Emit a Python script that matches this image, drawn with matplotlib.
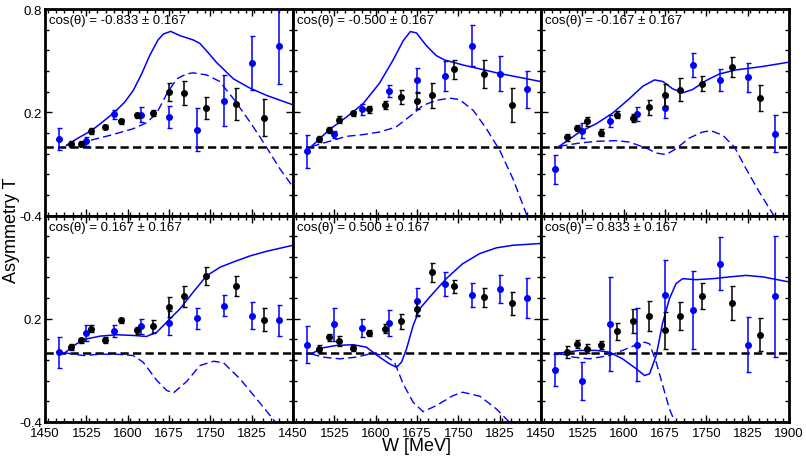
import numpy as np
import matplotlib.pyplot as plt
from matplotlib.ticker import FixedLocator, MultipleLocator

plt.rcParams['font.family'] = ['Liberation Sans', 'DejaVu Sans']

cos_labels = ['-0.833', '-0.500', '-0.167', '0.167', '0.500', '0.833']

# W positions of the two data sets
black_x = [1497, 1515, 1534, 1558, 1588, 1617, 1646, 1675, 1702, 1743, 1796, 1848]
blue_x = [1475, 1525, 1575, 1625, 1675, 1725, 1775, 1825, 1875]

black_y = [
    [0.014, 0.017, 0.089, 0.114, 0.147, 0.182, 0.197, 0.319, 0.313, 0.226, 0.247, 0.168],
    [0.043, 0.097, 0.157, 0.193, 0.216, 0.242, 0.29, 0.267, 0.298, 0.45, 0.421, 0.243],
    [0.054, 0.108, 0.147, 0.081, 0.186, 0.168, 0.23, 0.3, 0.332, 0.367, 0.464, 0.282],
    [0.037, 0.074, 0.142, 0.076, 0.19, 0.134, 0.157, 0.268, 0.33, 0.447, 0.388, 0.194],
    [0.025, 0.093, 0.07, 0.029, 0.118, 0.142, 0.186, 0.258, 0.47, 0.388, 0.326, 0.289],
    [0.006, 0.054, 0.027, 0.049, 0.126, 0.186, 0.216, 0.132, 0.216, 0.332, 0.291, 0.107],
]
black_e = [
    [0.017, 0.015, 0.017, 0.012, 0.014, 0.014, 0.018, 0.051, 0.068, 0.065, 0.093, 0.108],
    [0.018, 0.017, 0.02, 0.016, 0.018, 0.026, 0.041, 0.048, 0.073, 0.055, 0.08, 0.097],
    [0.019, 0.018, 0.025, 0.02, 0.02, 0.024, 0.044, 0.065, 0.067, 0.046, 0.059, 0.077],
    [0.017, 0.015, 0.02, 0.016, 0.017, 0.02, 0.037, 0.058, 0.061, 0.052, 0.058, 0.066],
    [0.02, 0.02, 0.028, 0.017, 0.018, 0.025, 0.043, 0.044, 0.056, 0.038, 0.055, 0.068],
    [0.033, 0.025, 0.024, 0.022, 0.048, 0.068, 0.087, 0.109, 0.08, 0.078, 0.097, 0.097],
]
blue_y = [
    [0.046, 0.031, 0.187, 0.186, 0.172, 0.097, 0.267, 0.487, 0.584],
    [-0.027, 0.072, 0.216, 0.325, 0.385, 0.41, 0.587, 0.425, 0.334],
    [-0.131, 0.093, 0.149, 0.191, 0.226, 0.475, 0.388, 0.402, 0.075],
    [0.004, 0.118, 0.128, 0.155, 0.177, 0.204, 0.276, 0.217, 0.192],
    [0.05, 0.167, 0.148, 0.175, 0.301, 0.402, 0.34, 0.373, 0.322],
    [-0.097, -0.161, 0.167, 0.05, 0.336, 0.249, 0.52, 0.05, 0.33],
]
blue_e = [
    [0.065, 0.025, 0.028, 0.045, 0.066, 0.125, 0.148, 0.158, 0.22],
    [0.097, 0.02, 0.032, 0.036, 0.072, 0.085, 0.12, 0.1, 0.108],
    [0.084, 0.042, 0.036, 0.042, 0.062, 0.071, 0.066, 0.082, 0.108],
    [0.09, 0.046, 0.034, 0.044, 0.07, 0.061, 0.06, 0.078, 0.09],
    [0.108, 0.097, 0.053, 0.073, 0.078, 0.071, 0.07, 0.08, 0.115],
    [0.094, 0.11, 0.273, 0.21, 0.204, 0.227, 0.155, 0.16, 0.35],
]

# model curves (solid and dashed)
solid_x = [
    [1489, 1510, 1535, 1555, 1576, 1595, 1610, 1625, 1640, 1655, 1665, 1678, 1695, 1719, 1731, 1745, 1761, 1792, 1822, 1852, 1900],
    [1483, 1516, 1547, 1577, 1607, 1631, 1650, 1663, 1674, 1692, 1710, 1725, 1758, 1789, 1825, 1875, 1900],
    [1483, 1520, 1550, 1580, 1610, 1635, 1656, 1671, 1689, 1707, 1725, 1750, 1774, 1804, 1852, 1900],
    [1486, 1507, 1526, 1550, 1580, 1610, 1634, 1653, 1671, 1695, 1719, 1743, 1768, 1792, 1822, 1852, 1900],
    [1483, 1504, 1529, 1559, 1583, 1607, 1625, 1638, 1647, 1656, 1668, 1680, 1698, 1728, 1758, 1789, 1819, 1849, 1898],
    [1483, 1520, 1550, 1574, 1598, 1623, 1638, 1647, 1659, 1671, 1683, 1695, 1707, 1731, 1762, 1792, 1822, 1853, 1900],
]
solid_y = [
    [0.008, 0.05, 0.095, 0.145, 0.2, 0.26, 0.326, 0.42, 0.53, 0.62, 0.655, 0.67, 0.645, 0.62, 0.6, 0.55, 0.49, 0.394, 0.34, 0.298, 0.243],
    [0.0, 0.099, 0.172, 0.249, 0.369, 0.5, 0.616, 0.669, 0.661, 0.587, 0.529, 0.504, 0.475, 0.452, 0.425, 0.394, 0.378],
    [0.002, 0.085, 0.133, 0.195, 0.278, 0.352, 0.388, 0.379, 0.336, 0.313, 0.332, 0.385, 0.423, 0.446, 0.466, 0.491],
    [0.002, 0.054, 0.083, 0.099, 0.107, 0.103, 0.097, 0.122, 0.181, 0.258, 0.355, 0.449, 0.5, 0.53, 0.565, 0.592, 0.627],
    [-0.004, 0.031, 0.045, 0.049, 0.035, -0.023, -0.062, -0.082, -0.052, 0.025, 0.161, 0.258, 0.326, 0.433, 0.52, 0.579, 0.612, 0.627, 0.637],
    [0.0, 0.016, 0.016, 0.006, -0.033, -0.091, -0.13, -0.12, -0.014, 0.18, 0.316, 0.404, 0.433, 0.427, 0.433, 0.443, 0.452, 0.443, 0.414],
]
dash_x = [
    [1489, 1525, 1568, 1610, 1634, 1652, 1671, 1689, 1707, 1719, 1743, 1767, 1792, 1822, 1846, 1876, 1900],
    [1483, 1516, 1547, 1577, 1607, 1637, 1668, 1686, 1710, 1734, 1752, 1777, 1801, 1825, 1849, 1872, 1880],
    [1483, 1520, 1550, 1586, 1610, 1641, 1659, 1677, 1695, 1719, 1743, 1758, 1780, 1801, 1822, 1846, 1870, 1880],
    [1486, 1520, 1550, 1580, 1610, 1628, 1653, 1671, 1683, 1707, 1731, 1756, 1774, 1804, 1834, 1866, 1875],
    [1483, 1504, 1535, 1565, 1595, 1619, 1634, 1650, 1668, 1686, 1710, 1740, 1758, 1789, 1819, 1840, 1850],
    [1483, 1508, 1538, 1574, 1598, 1623, 1638, 1647, 1659, 1671, 1683, 1692, 1700],
]
dash_y = [
    [0.008, 0.031, 0.066, 0.104, 0.139, 0.191, 0.307, 0.394, 0.423, 0.429, 0.417, 0.379, 0.278, 0.143, 0.027, -0.128, -0.234],
    [0.0, 0.031, 0.06, 0.07, 0.085, 0.114, 0.191, 0.24, 0.269, 0.282, 0.274, 0.211, 0.104, -0.021, -0.186, -0.379, -0.45],
    [0.002, 0.021, 0.031, 0.035, 0.027, -0.008, -0.037, -0.046, -0.012, 0.05, 0.085, 0.093, 0.066, -0.002, -0.128, -0.263, -0.388, -0.43],
    [0.002, -0.014, -0.006, -0.006, -0.014, -0.052, -0.159, -0.217, -0.231, -0.165, -0.072, -0.047, -0.056, -0.15, -0.266, -0.392, -0.43],
    [-0.004, -0.023, -0.033, -0.023, 0.0, -0.017, -0.052, -0.179, -0.285, -0.34, -0.305, -0.247, -0.227, -0.25, -0.324, -0.392, -0.43],
    [0.0, -0.023, -0.033, -0.014, 0.016, 0.049, 0.064, 0.054, -0.052, -0.188, -0.324, -0.392, -0.45],
]

x_major = [1450, 1525, 1600, 1675, 1750, 1825, 1900]
y_major = [-0.4, 0.2, 0.8]

fig, axes = plt.subplots(2, 3, figsize=(8.06, 4.6), dpi=100)
fig.subplots_adjust(left=45/806, right=789/806, top=1-10/460, bottom=1-423/460,
                    wspace=0, hspace=0)

blue = '#0000ff'
for i, ax in enumerate(axes.flat):
    row, col = divmod(i, 3)
    ax.axhline(0, color='black', lw=1.8, ls=(0, (3.3, 1.7)), zorder=1)
    ax.plot(solid_x[i], solid_y[i], color=blue, lw=1.1, zorder=2)
    ax.plot(dash_x[i], dash_y[i], color=blue, lw=1.0, ls=(0, (6, 3)), zorder=2)
    ax.errorbar(blue_x, blue_y[i], yerr=blue_e[i], fmt='o', color=blue, ms=4,
                elinewidth=1.1, capsize=1.8, capthick=1.0, zorder=3)
    ax.errorbar(black_x, black_y[i], yerr=black_e[i], fmt='o', color='black', ms=4,
                elinewidth=1.1, capsize=1.8, capthick=1.0, zorder=4)
    ax.text(0.015, 0.975, 'cos(θ) = %s ± 0.167' % cos_labels[i], transform=ax.transAxes,
            ha='left', va='top', fontsize=9.5)

    ax.set_xlim(1450, 1900)
    ax.set_ylim(-0.4, 0.8)
    ax.xaxis.set_major_locator(FixedLocator(x_major))
    ax.xaxis.set_minor_locator(MultipleLocator(15))
    ax.yaxis.set_major_locator(FixedLocator(y_major))
    ax.yaxis.set_minor_locator(FixedLocator(np.arange(-0.4, 0.81, 0.12)))
    ax.tick_params(which='both', direction='in', top=True, right=True, labelsize=9.5,
                   width=1.0, pad=2)
    ax.tick_params(axis='x', pad=3.5)
    ax.tick_params(which='major', length=5)
    ax.tick_params(which='minor', length=3)
    for s in ax.spines.values():
        s.set_linewidth(2)

    if col == 0:
        ylabs = ['-0.4', '0.2', '0.8'] if row == 0 else ['-0.4', '0.2', '']
        ax.set_yticks(y_major, ylabs)
    else:
        ax.set_yticks(y_major, ['', '', ''])
    if row == 1:
        xlabs = [str(v) for v in x_major]
        if col < 2:
            xlabs[-1] = ''
        ax.set_xticks(x_major, xlabs)
    else:
        ax.set_xticks(x_major, [''] * len(x_major))

fig.text(416/806, 1-447/460, 'W [MeV]', ha='center', va='center', fontsize=13)
fig.text(12/806, 0.5, 'Asymmetry T', ha='center', va='center', rotation=90, fontsize=13)

fig.savefig('out.png', dpi=100)
